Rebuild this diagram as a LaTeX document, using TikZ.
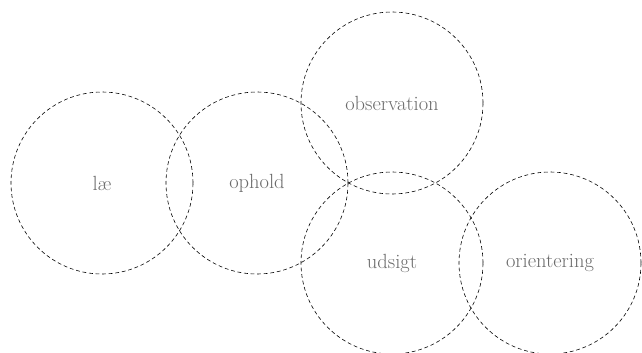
\documentclass[tikz,border=0pt]{standalone}
\usepackage{fontspec}
\begin{document}
\begin{tikzpicture}[x=1pt,y=-1pt,
  zone/.style={circle,draw=black,dash pattern=on 3.8pt off 2.8pt,line width=0.6pt,minimum size=182pt,inner sep=0pt,
    text=black!58,font=\fontsize{20.5}{24}\selectfont}]
\useasboundingbox (0,0) rectangle (642,353);
\node[zone] (lae) at (102,183) {læ};
\node[zone] (ophold) at (257,183) {ophold};
\node[zone] (observation) at (392,103) {observation};
\node[zone] (udsigt) at (392,263) {udsigt};
\node[zone] (orientering) at (550,263) {orientering};
\end{tikzpicture}
\end{document}
